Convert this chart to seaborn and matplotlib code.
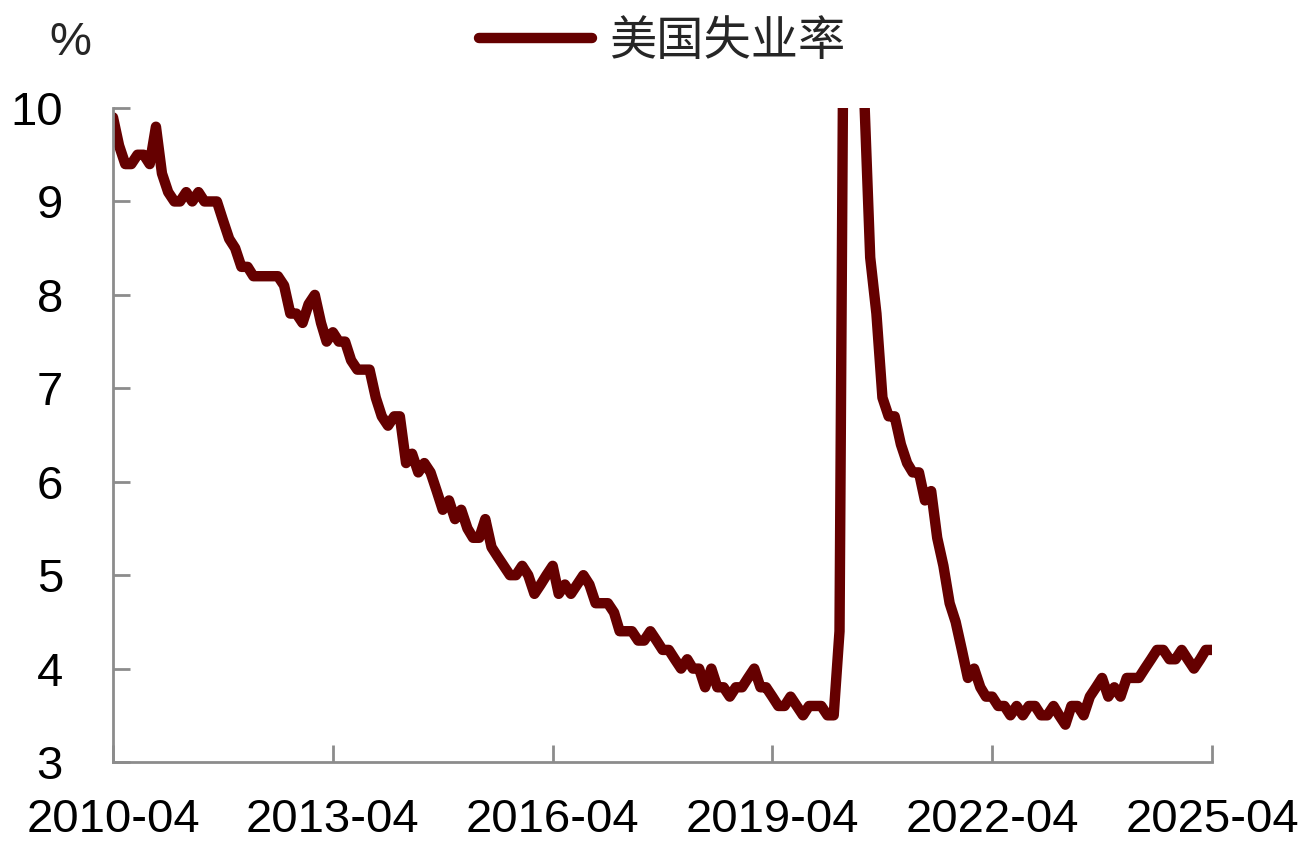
import pandas as pd
import seaborn as sns
import matplotlib.pyplot as plt

# US unemployment rate, monthly, 2010-04 .. 2025-04 (%)
rate = [
    9.9, 9.6, 9.4, 9.4, 9.5, 9.5, 9.4, 9.8, 9.3,
    9.1, 9.0, 9.0, 9.1, 9.0, 9.1, 9.0, 9.0, 9.0, 8.8, 8.6, 8.5,
    8.3, 8.3, 8.2, 8.2, 8.2, 8.2, 8.2, 8.1, 7.8, 7.8, 7.7, 7.9,
    8.0, 7.7, 7.5, 7.6, 7.5, 7.5, 7.3, 7.2, 7.2, 7.2, 6.9, 6.7,
    6.6, 6.7, 6.7, 6.2, 6.3, 6.1, 6.2, 6.1, 5.9, 5.7, 5.8, 5.6,
    5.7, 5.5, 5.4, 5.4, 5.6, 5.3, 5.2, 5.1, 5.0, 5.0, 5.1, 5.0,
    4.8, 4.9, 5.0, 5.1, 4.8, 4.9, 4.8, 4.9, 5.0, 4.9, 4.7, 4.7,
    4.7, 4.6, 4.4, 4.4, 4.4, 4.3, 4.3, 4.4, 4.3, 4.2, 4.2, 4.1,
    4.0, 4.1, 4.0, 4.0, 3.8, 4.0, 3.8, 3.8, 3.7, 3.8, 3.8, 3.9,
    4.0, 3.8, 3.8, 3.7, 3.6, 3.6, 3.7, 3.6, 3.5, 3.6, 3.6, 3.6,
    3.5, 3.5, 4.4, 14.8, 13.2, 11.0, 10.2, 8.4, 7.8, 6.9, 6.7, 6.7,
    6.4, 6.2, 6.1, 6.1, 5.8, 5.9, 5.4, 5.1, 4.7, 4.5, 4.2, 3.9,
    4.0, 3.8, 3.7, 3.7, 3.6, 3.6, 3.5, 3.6, 3.5, 3.6, 3.6, 3.5,
    3.5, 3.6, 3.5, 3.4, 3.6, 3.6, 3.5, 3.7, 3.8, 3.9, 3.7, 3.8,
    3.7, 3.9, 3.9, 3.9, 4.0, 4.1, 4.2, 4.2, 4.1, 4.1, 4.2, 4.1,
    4.0, 4.1, 4.2, 4.2,
]
months = pd.date_range("2010-04-01", periods=len(rate), freq="MS")
tick_labels = ["2010-04", "2013-04", "2016-04", "2019-04", "2022-04", "2025-04"]

df = pd.DataFrame({"date": months, "美国失业率": rate})

sns.set_style("white")
plt.rcParams["font.family"] = ["Liberation Sans", "Noto Sans CJK SC", "DejaVu Sans"]

fig = plt.figure(figsize=(13.08, 8.52), dpi=100)
ax = fig.add_axes([0.0864, 0.1056, 0.8402, 0.7676])

sns.lineplot(data=df, x="date", y="美国失业率", ax=ax, color="#650000",
             linewidth=7.5, label="美国失业率", legend=False)

ax.set_ylim(3, 10)
ax.set_xlim(pd.Timestamp("2010-04-01"), pd.Timestamp("2025-04-01"))
ax.set_yticks(range(3, 11))
ax.set_xticks(pd.to_datetime(tick_labels))
ax.set_xticklabels(tick_labels)

ax.set_xlabel("")
ax.set_ylabel("")
for s in ["top", "right"]:
    ax.spines[s].set_visible(False)
for s in ["left", "bottom"]:
    ax.spines[s].set_color("#8c8c8c")
    ax.spines[s].set_linewidth(2)
ax.tick_params(axis="both", direction="in", length=12, width=2,
               color="#8c8c8c", labelsize=34, labelcolor="black",
               left=True, bottom=True)
ax.tick_params(axis="y", pad=36)
ax.tick_params(axis="x", pad=26)

fig.text(0.054, 0.95, "%", fontsize=34, ha="center", va="center")

handles, labels = ax.get_legend_handles_labels()
fig.legend(handles, labels, loc="center", bbox_to_anchor=(0.506, 0.95),
           frameon=False, fontsize=34, handlelength=2.4, handletextpad=0.35)

fig.savefig("out.png", dpi=100)
